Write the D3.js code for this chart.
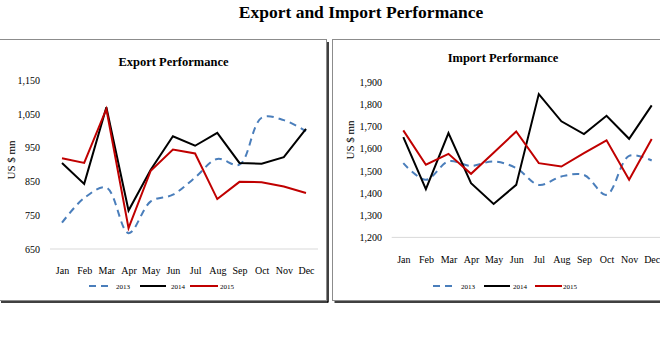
<!DOCTYPE html>
<html><head><meta charset="utf-8">
<script src="https://cdn.jsdelivr.net/npm/d3@7"></script>
<style>body{margin:0;background:#fff}svg{display:block}text{font-family:"Liberation Serif","DejaVu Serif",serif;fill:#000}</style>
</head><body><svg id="c" width="660" height="337"></svg>
<script>
const months = ["Jan","Feb","Mar","Apr","May","Jun","Jul","Aug","Sep","Oct","Nov","Dec"];
const years = ["2013","2014","2015"];
const export2013 = [728,801,832,697,791,811,862,917,900,1039,1032,999];
const export2014 = [905,843,1070,764,885,984,956,994,905,903,922,1006];
const export2015 = [919,905,1065,712,882,945,933,798,849,848,835,816];
const import2013 = [1535,1460,1543,1523,1543,1513,1437,1475,1482,1392,1568,1547];
const import2014 = [1653,1418,1671,1445,1351,1437,1847,1724,1666,1749,1645,1796];
const import2015 = [1683,1528,1577,1487,1582,1678,1535,1520,1580,1638,1460,1644];
const exportTicks = [650,750,850,950,1050,1150];
const importTicks = [1200,1300,1400,1500,1600,1700,1800,1900];

const colors = {"2013":"#4a7ebb","2014":"#000000","2015":"#c00000"};
const svg = d3.select("#c");
const fmt = d3.format(",");

svg.append("text").attr("x",361).attr("y",18).attr("text-anchor","middle")
  .style("font-size","17.5px").style("font-weight","bold").text("Export and Import Performance");

function panel(cfg){
  const g = svg.append("g");
  g.append("rect").attr("x",cfg.bx).attr("y",39.5).attr("width",cfg.bw).attr("height",261)
    .attr("fill","none").attr("stroke","#8c8c8c").attr("stroke-width",1);
  g.append("line").attr("x1",cfg.bx+2).attr("x2",cfg.bx+cfg.bw+1.5).attr("y1",302).attr("y2",302)
    .attr("stroke","#000").attr("stroke-width",1.5);
  if(cfg.shadowRight) g.append("line").attr("x1",cfg.bx+cfg.bw+1.5).attr("x2",cfg.bx+cfg.bw+1.5).attr("y1",42).attr("y2",302.5)
    .attr("stroke","#000").attr("stroke-width",1.5);

  const x = d3.scalePoint().domain(months).range(cfg.xr);
  const y = d3.scaleLinear().domain(cfg.yd).range(cfg.yr);

  g.append("text").attr("x",cfg.tx).attr("y",cfg.ty).attr("text-anchor","middle")
    .style("font-size","12.5px").style("font-weight","bold").text(cfg.title);

  g.append("line").attr("x1",cfg.gx[0]).attr("x2",cfg.gx[1]).attr("y1",y(cfg.yd[0])).attr("y2",y(cfg.yd[0]))
    .attr("stroke","#d9d9d9").attr("stroke-width",1);

  const ya = d3.axisLeft(y).tickValues(cfg.ticks).tickFormat(fmt).tickSize(0).tickPadding(0);
  const yg = g.append("g").attr("transform",`translate(${cfg.ylx},0)`).call(ya);
  yg.select(".domain").remove();
  yg.selectAll("text").style("font-size","10px").style("font-family","'Liberation Serif',serif").attr("fill","#000");

  const xa = d3.axisBottom(x).tickSize(0).tickPadding(0);
  const xg = g.append("g").attr("transform",`translate(0,${cfg.xly})`).call(xa);
  xg.select(".domain").remove();
  xg.selectAll("text").style("font-size","10px").style("font-family","'Liberation Serif',serif").attr("fill","#000");

  g.append("text").attr("transform",`translate(${cfg.yt[0]},${cfg.yt[1]}) rotate(-90)`)
    .attr("text-anchor","middle").style("font-size","11px").text("US $ mn");

  const series = cfg.series;
  years.forEach((yr,i)=>{
    const line = d3.line().x((d,j)=>x(months[j])).y(d=>y(d))
      .curve(yr==="2013"? d3.curveCatmullRom.alpha(0.5) : d3.curveLinear);
    const p = g.append("path").datum(series[i]).attr("d",line).attr("fill","none")
      .attr("stroke",colors[yr]).attr("stroke-width",2).attr("stroke-linejoin","miter");
    if(yr==="2013") p.attr("stroke-dasharray","7,5");
  });

  const lg = g.append("g");
  years.forEach((yr,i)=>{
    const L = cfg.legend[i];
    const ln = lg.append("line").attr("x1",L[0]).attr("x2",L[1]).attr("y1",286).attr("y2",286)
      .attr("stroke",colors[yr]).attr("stroke-width",2);
    if(yr==="2013") ln.attr("stroke-dasharray","7,5");
    lg.append("text").attr("x",L[2]).attr("y",288.5).style("font-size","7px").text(yr);
  });
}

panel({bx:-1,bw:327.5,shadowRight:true,xr:[62,306],yd:[650,1150],yr:[249,80.3],
  title:"Export Performance",tx:173.5,ty:66,gx:[50,318],ticks:exportTicks,ylx:40,xly:267,
  yt:[15,160],series:[export2013,export2014,export2015],
  legend:[[89,111,116],[140,166,171],[190,218,220]]});

panel({bx:332.5,bw:340,shadowRight:false,xr:[403.3,651.7],yd:[1200,1900],yr:[237.4,82.3],
  title:"Import Performance",tx:503,ty:62,gx:[391.7,670],ticks:importTicks,ylx:382,xly:255.5,
  yt:[354,140],series:[import2013,import2014,import2015],
  legend:[[433,455,461],[484,510,513],[535,562,563]]});
</script></body></html>
